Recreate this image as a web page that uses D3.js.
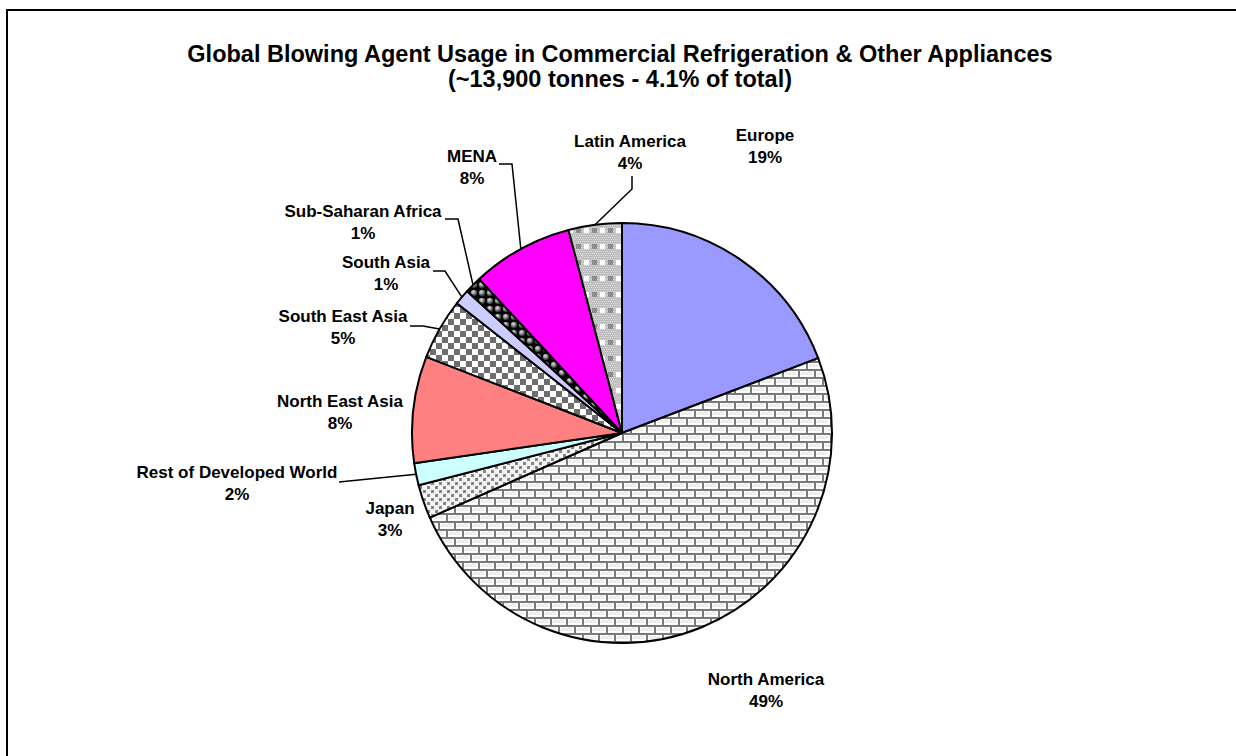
<!DOCTYPE html>
<html>
<head>
<meta charset="utf-8">
<script src="https://cdn.jsdelivr.net/npm/d3@7"></script>
<style>
  html, body { margin: 0; padding: 0; background: #fff; }
  svg { display: block; }
  text { font-family: "Liberation Sans", Arial, sans-serif; font-weight: bold; fill: #000; }
</style>
</head>
<body>
<svg id="chart" width="1236" height="756"></svg>
<script>
// Regional share of blowing agent use (percent), clockwise from 12 o'clock
const regions = ["Europe", "North America", "Japan", "Rest of Developed World", "North East Asia",
                 "South East Asia", "South Asia", "Sub-Saharan Africa", "MENA", "Latin America"];
const shares = [19.2, 49.2, 2.6, 1.7, 8.2, 4.7, 1.2, 1.3, 7.8, 4.1];
const shareLabels = ["19%", "49%", "3%", "2%", "8%", "5%", "1%", "1%", "8%", "4%"];
const titleLines = ["Global Blowing Agent Usage in Commercial Refrigeration & Other Appliances",
                    "(~13,900 tonnes - 4.1% of total)"];

const svg = d3.select("#chart");
const cx = 622, cy = 433, radius = 210;

// ---- fill patterns ----
const defs = svg.append("defs");

// horizontal brick
const brick = defs.append("pattern").attr("id", "pat-brick")
  .attr("patternUnits", "userSpaceOnUse").attr("width", 16).attr("height", 16);
brick.append("rect").attr("width", 16).attr("height", 16).attr("fill", "#ffffff");
brick.append("rect").attr("x", 3).attr("y", 3).attr("width", 11).attr("height", 3).attr("fill", "#eeeeee");
brick.append("rect").attr("x", 0).attr("y", 11).attr("width", 6).attr("height", 3).attr("fill", "#eeeeee");
brick.append("rect").attr("x", 11).attr("y", 11).attr("width", 5).attr("height", 3).attr("fill", "#eeeeee");
brick.append("rect").attr("x", 0).attr("y", 0).attr("width", 16).attr("height", 2).attr("fill", "#7a7a7a");
brick.append("rect").attr("x", 0).attr("y", 8).attr("width", 16).attr("height", 2).attr("fill", "#7a7a7a");
brick.append("rect").attr("x", 0).attr("y", 0).attr("width", 2).attr("height", 8).attr("fill", "#7a7a7a");
brick.append("rect").attr("x", 8).attr("y", 8).attr("width", 2).attr("height", 8).attr("fill", "#7a7a7a");

// fine dotted grid
const dots = defs.append("pattern").attr("id", "pat-dots")
  .attr("patternUnits", "userSpaceOnUse").attr("width", 8).attr("height", 8);
dots.append("rect").attr("width", 8).attr("height", 8).attr("fill", "#f4f4f4");
dots.append("rect").attr("x", 1).attr("y", 1).attr("width", 3).attr("height", 3).attr("fill", "#858585");
dots.append("rect").attr("x", 5).attr("y", 5).attr("width", 3).attr("height", 3).attr("fill", "#858585");

// checkerboard
const checker = defs.append("pattern").attr("id", "pat-checker")
  .attr("patternUnits", "userSpaceOnUse").attr("width", 12).attr("height", 12);
checker.append("rect").attr("width", 12).attr("height", 12).attr("fill", "#ffffff");
checker.append("rect").attr("x", 0).attr("y", 0).attr("width", 6).attr("height", 6).attr("fill", "#6e6e6e");
checker.append("rect").attr("x", 6).attr("y", 6).attr("width", 6).attr("height", 6).attr("fill", "#6e6e6e");

// spheres on black
const sphereGrad = defs.append("radialGradient").attr("id", "grad-sphere")
  .attr("cx", "40%").attr("cy", "35%").attr("r", "60%");
sphereGrad.append("stop").attr("offset", "0%").attr("stop-color", "#e8e8e8");
sphereGrad.append("stop").attr("offset", "60%").attr("stop-color", "#7a7a7a");
sphereGrad.append("stop").attr("offset", "100%").attr("stop-color", "#2a2a2a");
const sphere = defs.append("pattern").attr("id", "pat-sphere")
  .attr("patternUnits", "userSpaceOnUse").attr("width", 8).attr("height", 8);
sphere.append("rect").attr("width", 8).attr("height", 8).attr("fill", "#000000");
sphere.append("circle").attr("cx", 4).attr("cy", 4).attr("r", 3.3).attr("fill", "url(#grad-sphere)");

// large gray weave
const weave = defs.append("pattern").attr("id", "pat-weave")
  .attr("patternUnits", "userSpaceOnUse").attr("width", 16).attr("height", 16);
weave.append("rect").attr("width", 16).attr("height", 16).attr("fill", "#bdbdbd");
for (let i = 0; i < 16; i += 2) {
  for (let j = (i / 2) % 2; j < 16; j += 2) {
    weave.append("rect").attr("x", j).attr("y", i).attr("width", 1).attr("height", 1).attr("fill", "#dcdcdc");
  }
}
weave.append("rect").attr("x", 2).attr("y", 3).attr("width", 5).attr("height", 5).attr("fill", "#8c8c8c");
weave.append("rect").attr("x", 10).attr("y", 3).attr("width", 5).attr("height", 5).attr("fill", "#ffffff");

const fills = ["#9999ff", "url(#pat-brick)", "url(#pat-dots)", "#ccffff", "#ff8080",
               "url(#pat-checker)", "#ccccff", "url(#pat-sphere)", "#ff00ff", "url(#pat-weave)"];

// ---- frame ----
svg.append("path")
  .attr("d", "M7,760 L7,10 L1240,10")
  .attr("fill", "none").attr("stroke", "#000").attr("stroke-width", 2);

// ---- title ----
svg.append("g").selectAll("text").data(titleLines).join("text")
  .attr("x", 620).attr("y", (d, i) => 62 + i * 25)
  .attr("text-anchor", "middle").attr("font-size", 23.5)
  .text(d => d);

// ---- pie ----
const data = regions.map((r, i) => ({ region: r, share: shares[i], label: shareLabels[i], fill: fills[i] }));
const pie = d3.pie().value(d => d.share).sort(null);
const arcs = pie(data);
const arc = d3.arc().innerRadius(0).outerRadius(radius);

const g = svg.append("g").attr("transform", `translate(${cx},${cy})`);
g.selectAll("path").data(arcs).join("path")
  .attr("d", arc)
  .attr("fill", d => d.data.fill)
  .attr("stroke", "#000").attr("stroke-width", 2).attr("stroke-linejoin", "round");

// ---- labels ----
// text position (centre, first baseline) and leader bend points, by region
const labelLayout = {
  "Europe": { x: 765, y: 141 },
  "North America": { x: 766, y: 685 },
  "Japan": { x: 390, y: 514 },
  "Rest of Developed World": { x: 237, y: 478, leader: [[339, 482]] },
  "North East Asia": { x: 340, y: 407 },
  "South East Asia": { x: 343, y: 322, leader: [[410, 326], [423, 326]] },
  "South Asia": { x: 386, y: 268, leader: [[433, 271], [445, 271]] },
  "Sub-Saharan Africa": { x: 363, y: 217, leader: [[445, 219], [458, 219]] },
  "MENA": { x: 472, y: 162, leader: [[499, 164], [512, 164]] },
  "Latin America": { x: 630, y: 147, leader: [[632, 176], [632, 189]] }
};

const lineGen = d3.line();
arcs.forEach(a => {
  const lay = labelLayout[a.data.region];
  if (lay.leader) {
    const mid = (a.startAngle + a.endAngle) / 2;
    const end = [cx + radius * Math.sin(mid), cy - radius * Math.cos(mid)];
    svg.append("path")
      .attr("d", lineGen(lay.leader.concat([end])))
      .attr("fill", "none").attr("stroke", "#000").attr("stroke-width", 1.5);
  }
  const t = svg.append("text").attr("text-anchor", "middle").attr("font-size", 17);
  t.append("tspan").attr("x", lay.x).attr("y", lay.y).text(a.data.region);
  t.append("tspan").attr("x", lay.x).attr("y", lay.y + 21.5).text(a.data.label);
});
</script>
</body>
</html>
